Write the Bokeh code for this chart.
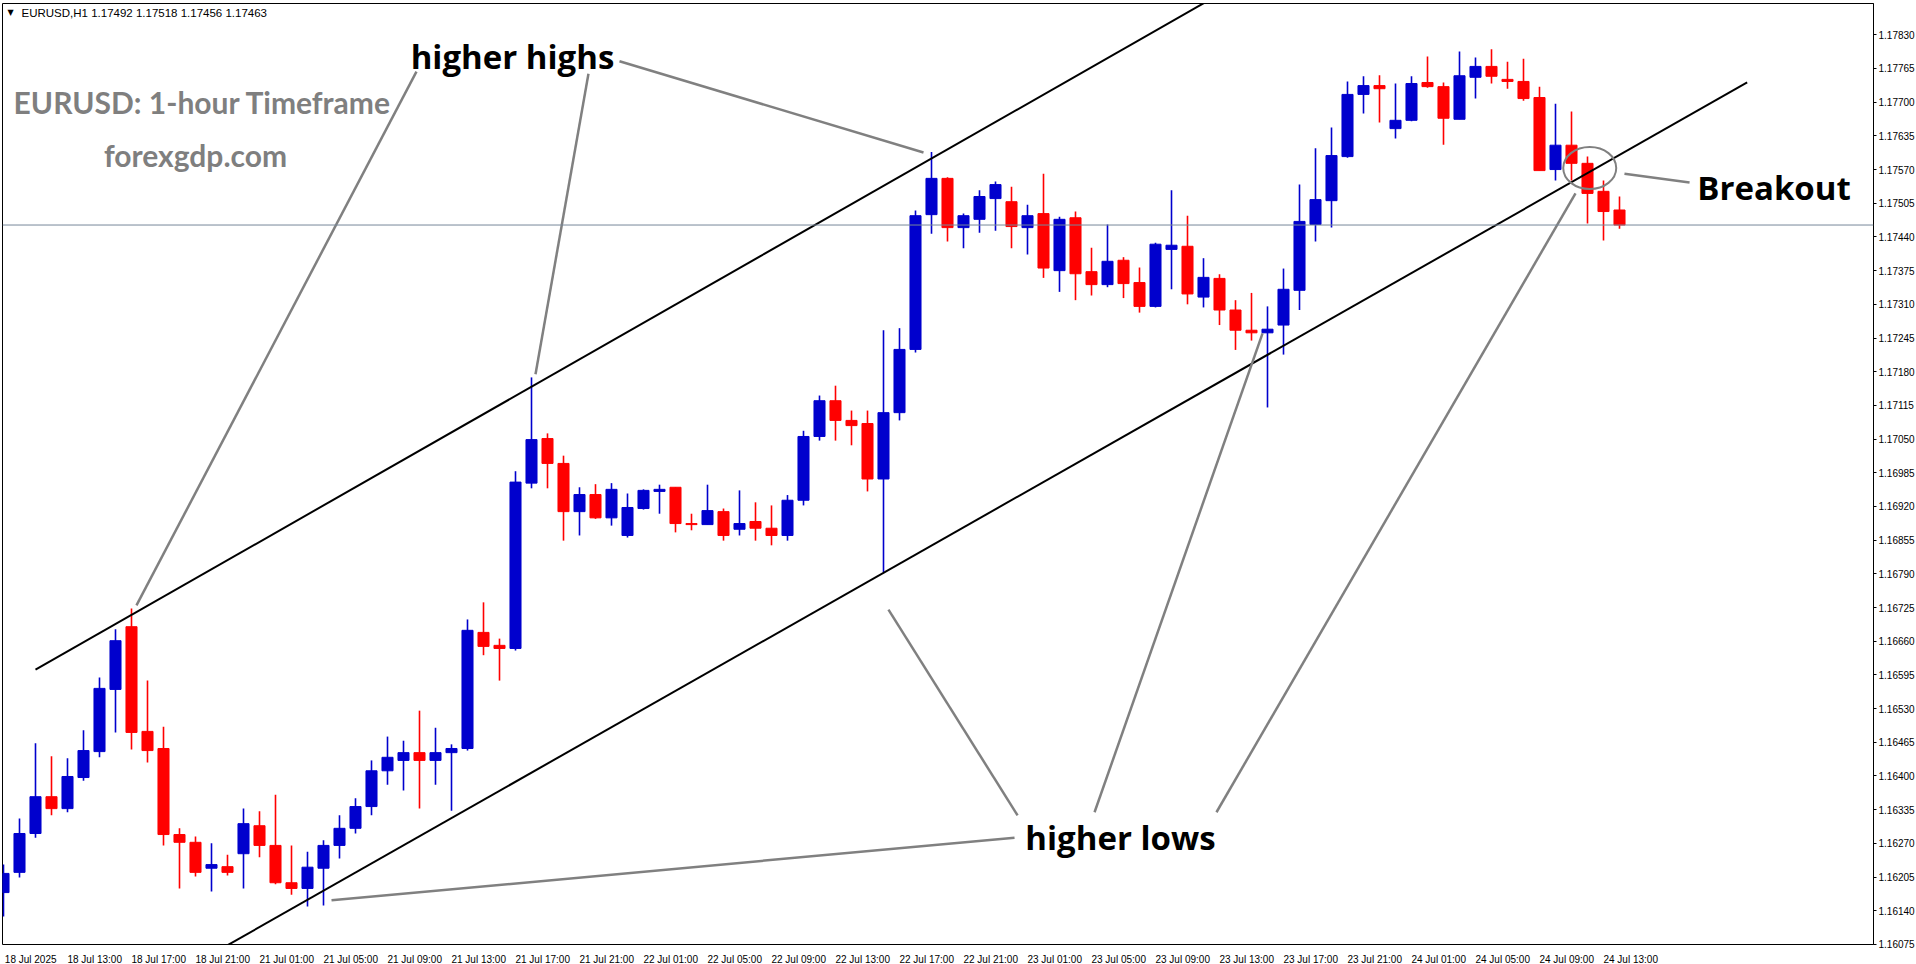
from bokeh.plotting import figure
from bokeh.models import Range1d, FixedTicker, PrintfTickFormatter, ColumnDataSource, Span, Label
from bokeh.embed import file_html
from bokeh.resources import INLINE

# ---------------- data (EURUSD H1, 18 Jul 2025 09:00 .. 24 Jul 14:00) ----------------
opens = [1.16175, 1.16214, 1.16289, 1.16360, 1.16337, 1.16397, 1.16447, 1.16567, 1.16688, 1.16486,
         1.16453, 1.16287, 1.16272, 1.16222, 1.16225, 1.16250, 1.16304, 1.16266, 1.16194, 1.16183,
         1.16222, 1.16266, 1.16299, 1.16341, 1.16410, 1.16430, 1.16445, 1.16430, 1.16445, 1.16453,
         1.16677, 1.16652, 1.16646, 1.16965, 1.17051, 1.17003, 1.16910, 1.16943, 1.16898, 1.16864,
         1.16916, 1.16949, 1.16957, 1.16887, 1.16885, 1.16910, 1.16876, 1.16891, 1.16878, 1.16864,
         1.16932, 1.17055, 1.17124, 1.17086, 1.17080, 1.16973, 1.17101, 1.17223, 1.17483, 1.17553,
         1.17458, 1.17474, 1.17514, 1.17508, 1.17458, 1.17485, 1.17375, 1.17477, 1.17373, 1.17348,
         1.17395, 1.17352, 1.17306, 1.17416, 1.17422, 1.17324, 1.17360, 1.17299, 1.17260, 1.17255,
         1.17270, 1.17337, 1.17464, 1.17510, 1.17595, 1.17715, 1.17732, 1.17649, 1.17665, 1.17738,
         1.17730, 1.17667, 1.17748, 1.17769, 1.17744, 1.17740, 1.17709, 1.17570, 1.17617, 1.17582,
         1.17528, 1.17492]
highs = [1.16229, 1.16318, 1.16463, 1.16438, 1.16434, 1.16488, 1.16590, 1.16683, 1.16723, 1.16584,
         1.16495, 1.16299, 1.16283, 1.16270, 1.16248, 1.16337, 1.16332, 1.16364, 1.16266, 1.16254,
         1.16276, 1.16324, 1.16357, 1.16430, 1.16476, 1.16468, 1.16526, 1.16493, 1.16461, 1.16702,
         1.16735, 1.16665, 1.16988, 1.17169, 1.17061, 1.17018, 1.16957, 1.16963, 1.16965, 1.16945,
         1.16953, 1.16962, 1.16957, 1.16906, 1.16962, 1.16916, 1.16951, 1.16928, 1.16922, 1.16942,
         1.17066, 1.17134, 1.17153, 1.17105, 1.17105, 1.17260, 1.17264, 1.17491, 1.17604, 1.17555,
         1.17485, 1.17530, 1.17547, 1.17537, 1.17502, 1.17562, 1.17479, 1.17489, 1.17419, 1.17464,
         1.17401, 1.17381, 1.17429, 1.17530, 1.17481, 1.17399, 1.17368, 1.17318, 1.17332, 1.17306,
         1.17379, 1.17541, 1.17611, 1.17651, 1.17740, 1.17750, 1.17752, 1.17736, 1.17750, 1.17788,
         1.17738, 1.17798, 1.17786, 1.17802, 1.17778, 1.17784, 1.17730, 1.17697, 1.17682, 1.17595,
         1.17549, 1.17518]
lows = [1.16129, 1.16204, 1.16281, 1.16324, 1.16330, 1.16391, 1.16436, 1.16484, 1.16451, 1.16426,
        1.16266, 1.16183, 1.16206, 1.16177, 1.16208, 1.16183, 1.16243, 1.16191, 1.16171, 1.16148,
        1.16150, 1.16241, 1.16289, 1.16324, 1.16383, 1.16372, 1.16337, 1.16383, 1.16333, 1.16449,
        1.16633, 1.16584, 1.16642, 1.16955, 1.16955, 1.16854, 1.16864, 1.16896, 1.16883, 1.16860,
        1.16914, 1.16906, 1.16870, 1.16874, 1.16885, 1.16854, 1.16864, 1.16854, 1.16845, 1.16854,
        1.16922, 1.17047, 1.17047, 1.17038, 1.16949, 1.16793, 1.17086, 1.17217, 1.17446, 1.17431,
        1.17418, 1.17448, 1.17452, 1.17418, 1.17406, 1.17361, 1.17334, 1.17318, 1.17327, 1.17343,
        1.17322, 1.17294, 1.17304, 1.17339, 1.17310, 1.17304, 1.17270, 1.17222, 1.17240, 1.17111,
        1.17213, 1.17299, 1.17431, 1.17458, 1.17593, 1.17678, 1.17661, 1.17630, 1.17663, 1.17728,
        1.17618, 1.17667, 1.17707, 1.17736, 1.17726, 1.17703, 1.17568, 1.17549, 1.17549, 1.17466,
        1.17433, 1.17456]
closes = [1.16212, 1.16289, 1.16360, 1.16337, 1.16399, 1.16449, 1.16569, 1.16661, 1.16484, 1.16449,
          1.16287, 1.16272, 1.16214, 1.16229, 1.16214, 1.16308, 1.16266, 1.16194, 1.16183, 1.16224,
          1.16266, 1.16299, 1.16341, 1.16410, 1.16436, 1.16445, 1.16430, 1.16445, 1.16453, 1.16681,
          1.16650, 1.16646, 1.16967, 1.17049, 1.17003, 1.16910, 1.16943, 1.16898, 1.16953, 1.16918,
          1.16951, 1.16953, 1.16887, 1.16885, 1.16912, 1.16864, 1.16887, 1.16878, 1.16864, 1.16932,
          1.17055, 1.17124, 1.17086, 1.17076, 1.16973, 1.17101, 1.17223, 1.17481, 1.17553, 1.17458,
          1.17481, 1.17518, 1.17541, 1.17460, 1.17481, 1.17380, 1.17474, 1.17369, 1.17348, 1.17393,
          1.17350, 1.17306, 1.17426, 1.17424, 1.17330, 1.17362, 1.17299, 1.17260, 1.17255, 1.17262,
          1.17339, 1.17470, 1.17512, 1.17597, 1.17715, 1.17732, 1.17726, 1.17665, 1.17736, 1.17730,
          1.17669, 1.17751, 1.17769, 1.17750, 1.17740, 1.17707, 1.17568, 1.17617, 1.17582, 1.17524,
          1.17489, 1.17463]

x_tick_labels = ["18 Jul 2025", "18 Jul 13:00", "18 Jul 17:00", "18 Jul 21:00", "21 Jul 01:00",
                 "21 Jul 05:00", "21 Jul 09:00", "21 Jul 13:00", "21 Jul 17:00", "21 Jul 21:00",
                 "22 Jul 01:00", "22 Jul 05:00", "22 Jul 09:00", "22 Jul 13:00", "22 Jul 17:00",
                 "22 Jul 21:00", "23 Jul 01:00", "23 Jul 05:00", "23 Jul 09:00", "23 Jul 13:00",
                 "23 Jul 17:00", "23 Jul 21:00", "24 Jul 01:00", "24 Jul 05:00", "24 Jul 09:00",
                 "24 Jul 13:00"]
y_tick_values = [1.16075, 1.16140, 1.16205, 1.16270, 1.16335, 1.16400, 1.16465, 1.16530, 1.16595,
                 1.16660, 1.16725, 1.16790, 1.16855, 1.16920, 1.16985, 1.17050, 1.17115, 1.17180,
                 1.17245, 1.17310, 1.17375, 1.17440, 1.17505, 1.17570, 1.17635, 1.17700, 1.17765,
                 1.17830]
last_price = 1.17463
header_text = "EURUSD,H1  1.17492 1.17518 1.17456 1.17463"

# trend channel (bar index, price)
upper_channel = [(2.0, 1.16605), (75.75, 1.17904)]
lower_channel = [(13.69, 1.16068), (108.98, 1.17738)]
# pointer lines (bar index, price) -> (bar index, price)
pointers = [((25.81, 1.17759), (8.31, 1.16729)),
            ((36.56, 1.17755), (33.25, 1.17175)),
            ((38.50, 1.17779), (57.50, 1.17603)),
            ((63.19, 1.16281), (20.50, 1.16160)),
            ((63.38, 1.16324), (55.31, 1.16721)),
            ((68.19, 1.16330), (78.69, 1.17254)),
            ((75.81, 1.16330), (98.25, 1.17524)),
            ((101.31, 1.17562), (105.38, 1.17545))]
breakout_circle = (99.14, 1.17573)
texts = [("higher highs", 31.81, 1.17788, "black", "Open Sans", "33px"),
         ("higher lows", 69.81, 1.16281, "black", "Open Sans", "33px"),
         ("Breakout", 110.66, 1.17535, "black", "Open Sans", "33px"),
         ("EURUSD: 1-hour Timeframe", 12.44, 1.17701, "#7f7f7f", "Lato", "30px"),
         ("forexgdp.com", 12.0, 1.17599, "#7f7f7f", "Lato", "30px")]

# ---------------- figure ----------------
n = len(opens)
xs = list(range(n))
FRAME_W = 1871
FRAME_H = 941
x_start = -0.0625
x_end = x_start + FRAME_W / 16.0
y_end = 1.178904
y_start = y_end - FRAME_H * 0.000019294

p = figure(frame_width=FRAME_W, frame_height=FRAME_H,
           x_range=Range1d(x_start, x_end), y_range=Range1d(y_start, y_end),
           y_axis_location="right", output_backend="svg", toolbar_location=None,
           min_border_left=2, min_border_top=3, min_border_right=0, min_border_bottom=0)
p.background_fill_color = "white"
p.border_fill_color = "white"
p.outline_line_color = "black"
p.outline_line_width = 1
p.grid.visible = False

UP = "#0000CD"
DN = "#FF0000"
colors = [UP if c >= o else DN for o, c in zip(opens, closes)]
src = ColumnDataSource(dict(x=xs, o=opens, h=highs, l=lows, c=closes,
                            top=[max(a, b) for a, b in zip(opens, closes)],
                            bottom=[min(a, b) for a, b in zip(opens, closes)],
                            color=colors))

# current price line
p.add_layout(Span(location=last_price, dimension="width", line_color="#778899", line_width=1))

p.segment(x0="x", y0="l", x1="x", y1="h", source=src, line_color="color", line_width=1.6)
p.vbar(x="x", width=0.69, top="top", bottom="bottom", source=src,
       fill_color="color", line_color="color", line_width=1)

# channel lines
p.line([a[0] for a in upper_channel], [a[1] for a in upper_channel], line_color="black", line_width=2)
p.line([a[0] for a in lower_channel], [a[1] for a in lower_channel], line_color="black", line_width=2)

# pointers
for (a, b) in pointers:
    p.line([a[0], b[0]], [a[1], b[1]], line_color="#808080", line_width=2.5)
p.ellipse(x=[breakout_circle[0]], y=[breakout_circle[1]], width=53, height=42,
          width_units="screen", height_units="screen",
          fill_color=None, line_color="#808080", line_width=2)

for t, xi, yi, col, fnt, fs in texts:
    p.add_layout(Label(x=xi, y=yi, text=t, text_align="center", text_baseline="middle",
                       text_font=fnt, text_font_style="bold", text_font_size=fs,
                       text_color=col))

# header
p.add_layout(Label(x=x_start, y=y_end, x_offset=5, y_offset=-4, text="\u25bc",
                   text_baseline="top", text_font="DejaVu Sans", text_font_size="8px",
                   text_color="black"))
p.add_layout(Label(x=x_start, y=y_end, x_offset=19, y_offset=-3, text=header_text,
                   text_baseline="top", text_font="Liberation Sans", text_font_size="11.5px",
                   text_color="black"))

# axes
yax = p.yaxis[0]
yax.ticker = FixedTicker(ticks=y_tick_values)
yax.formatter = PrintfTickFormatter(format="%.5f")
yax.major_tick_in = 0
yax.major_tick_out = 3
yax.minor_tick_line_color = None
yax.axis_line_color = "black"
yax.major_label_standoff = 2
yax.major_label_text_font = "Liberation Sans"
yax.major_label_text_font_size = "10px"
yax.major_label_text_color = "black"

x_ticks = xs[:101:4]
lab_shift = 1.7
xax = p.xaxis[0]
xax.ticker = FixedTicker(ticks=[t + lab_shift for t in x_ticks])
xax.major_label_overrides = {t + lab_shift: lab for t, lab in zip(x_ticks, x_tick_labels)}
xax.major_tick_line_color = None
xax.minor_tick_line_color = None
xax.axis_line_color = None
xax.major_label_standoff = 3
xax.major_label_text_font = "Liberation Sans"
xax.major_label_text_font_size = "10px"
xax.major_label_text_color = "black"

# last price tag on the axis
p.add_layout(Label(x=x_end, y=last_price, x_offset=1, text="1.17463", text_baseline="middle",
                   text_font="Liberation Sans", text_font_size="10px",
                   text_color="white", background_fill_color="black"))

open("out.html", "w").write(file_html(p, INLINE))
